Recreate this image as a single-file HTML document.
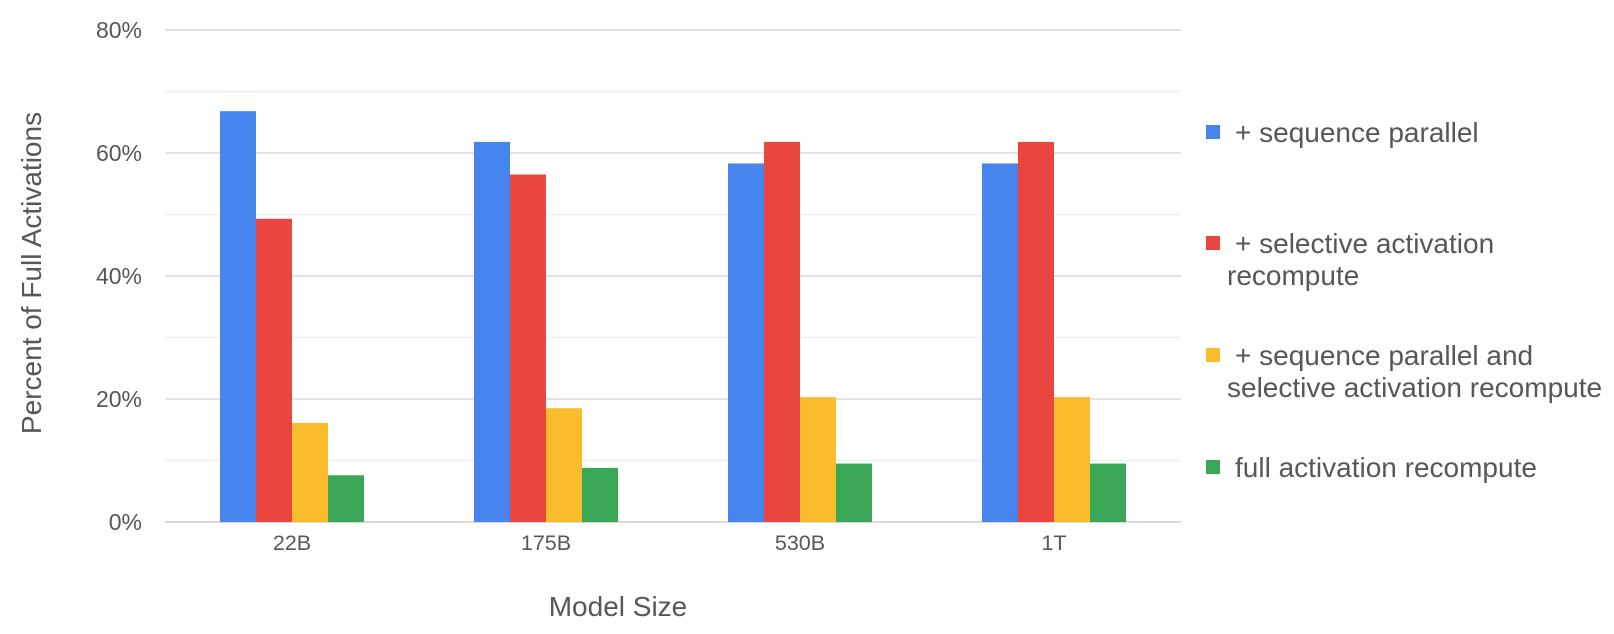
<!DOCTYPE html>
<html><head><meta charset="utf-8">
<style>
html,body{margin:0;padding:0;background:#fff;}
svg text{font-family:"Liberation Sans",Arial,sans-serif;fill:#575757;}
</style></head>
<body>
<svg id="chart" width="1614" height="629" xmlns="http://www.w3.org/2000/svg">
<g id="grid"></g>
<g id="bars"></g>
<g id="yticks"></g>
<g id="xticks"></g>
<text x="618" y="616" font-size="28" text-anchor="middle">Model Size</text>
<text transform="translate(41,273) rotate(-90)" font-size="28" text-anchor="middle">Percent of Full Activations</text>
<g id="legend"></g>
</svg>
<script>
const categories = ["22B","175B","530B","1T"];
const seqParallel = [66.8, 61.8, 58.3, 58.3];
const selective = [49.3, 56.5, 61.8, 61.8];
const seqAndSelective = [16.1, 18.5, 20.3, 20.3];
const fullRecompute = [7.6, 8.8, 9.5, 9.5];
const yTickValues = [0, 20, 40, 60, 80];
const yTickLabels = ["0%","20%","40%","60%","80%"];
const seriesNames = ["+ sequence parallel","+ selective activation recompute","+ sequence parallel and selective activation recompute","full activation recompute"];

const NS="http://www.w3.org/2000/svg";
const series=[seqParallel,selective,seqAndSelective,fullRecompute];
const colors=["#4684ee","#e8463e","#f9bc2c","#3aa757"];
const x0=165,x1=1181,yBase=522,pxPer=6.15,barW=36;
function yScale(v){return yBase - v*pxPer;}
function xCenter(i){return x0 + (x1-x0)/categories.length*(i+0.5);}
function mk(tag,attrs,parent){const e=document.createElementNS(NS,tag);for(const k in attrs)e.setAttribute(k,attrs[k]);parent.appendChild(e);return e;}

const grid=document.getElementById('grid');
for(let v=0;v<=80;v+=10){
  const l=mk('line',{x1:x0,x2:x1,y1:yScale(v),y2:yScale(v),stroke:(v%20===0)?'#d9d9d9':'#efefef','stroke-width':(v===0)?2:1.5},grid);
  
  
}
const yt=document.getElementById('yticks');
yTickValues.forEach((v,i)=>{
  const t=mk('text',{x:142,y:yScale(v)+8,'font-size':23,'text-anchor':'end'},yt);
  t.textContent=yTickLabels[i];
  
  
});
const xt=document.getElementById('xticks');
categories.forEach((c,i)=>{
  const t=mk('text',{x:xCenter(i),y:550,'font-size':21.5,'text-anchor':'middle'},xt);
  t.textContent=c;
  
  
});
const bars=document.getElementById('bars');
categories.forEach((c,i)=>{
  series.forEach((s,j)=>{
    const x=xCenter(i)-2*barW+j*barW;
    const r=mk('rect',{x:x,y:yScale(s[i]),width:barW,height:yBase-yScale(s[i]),fill:colors[j]},bars);
    
    
  });
});
const lg=document.getElementById('legend');
const legendY=[132,243,355,467];
const legendLines=[["+ sequence parallel"],["+ selective activation","recompute"],["+ sequence parallel and","selective activation recompute"],["full activation recompute"]];
legendLines.forEach((lines,j)=>{
  const sq=mk('rect',{x:1206,y:legendY[j]-7,width:14,height:14,fill:colors[j]},lg);
  
  
  lines.forEach((ln,k)=>{
    const t=mk('text',{x:(k===0?1235:1227),y:legendY[j]+10+k*32,'font-size':28},lg);
    t.textContent=ln;
    
    
  });
});
</script>
</body></html>
